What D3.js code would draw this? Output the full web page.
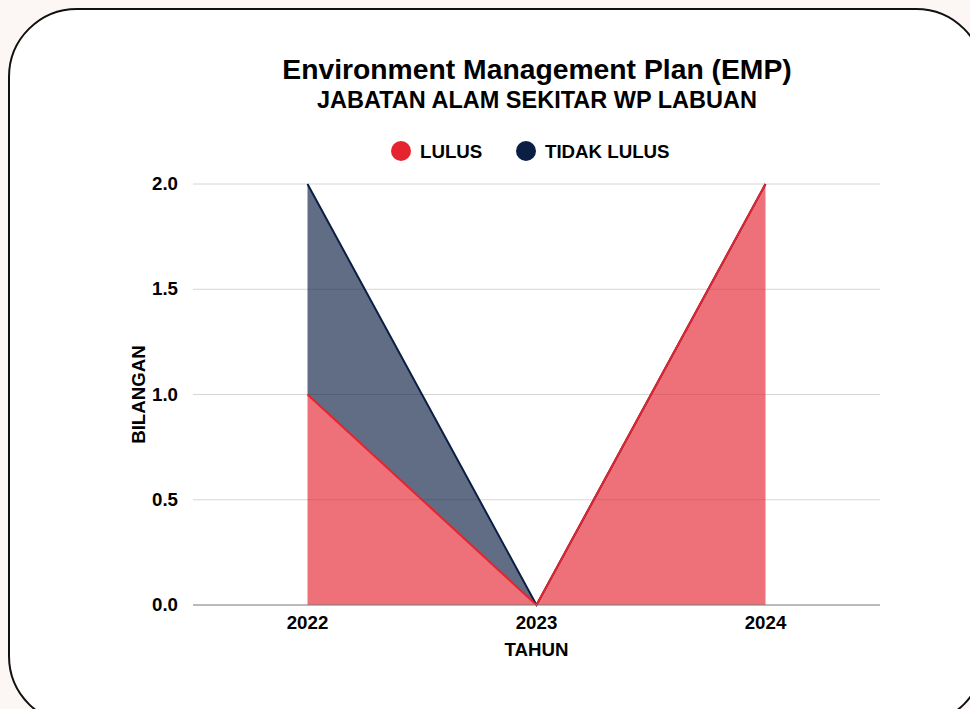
<!DOCTYPE html>
<html>
<head>
<meta charset="utf-8">
<script src="https://cdn.jsdelivr.net/npm/d3@7"></script>
<style>
  html, body { margin: 0; padding: 0; background: #fcf6f5; }
  svg { display: block; font-family: "Liberation Sans", Arial, sans-serif; }
</style>
</head>
<body>
<div id="chart"></div>
<script>
// data
const years = ["2022", "2023", "2024"];
const lulus = [1, 0, 2];
const tidakLulus = [1, 0, 0];
const seriesNames = ["LULUS", "TIDAK LULUS"];
const seriesColors = ["#e5242f", "#0b1f44"];
const yTicks = [0, 0.5, 1, 1.5, 2];

const width = 970, height = 709;
const plot = { left: 193, right: 880, top: 184, bottom: 605 };

const svg = d3.select("#chart").append("svg")
  .attr("width", width)
  .attr("height", height);

// card
svg.append("rect")
  .attr("x", 9).attr("y", 9)
  .attr("width", 975).attr("height", 715)
  .attr("rx", 68).attr("ry", 68)
  .attr("fill", "#ffffff")
  .attr("stroke", "#111")
  .attr("stroke-width", 2);

const x = d3.scalePoint().domain(years).range([plot.left, plot.right]).padding(0.5);
const y = d3.scaleLinear().domain([0, 2]).range([plot.bottom, plot.top]);

// gridlines
svg.append("g")
  .selectAll("line")
  .data(yTicks.filter(d => d > 0))
  .enter().append("line")
  .attr("x1", plot.left).attr("x2", plot.right)
  .attr("y1", d => y(d)).attr("y2", d => y(d))
  .attr("stroke", "#d6d6d6").attr("stroke-width", 1);

// stacked areas
const rows = years.map((yr, i) => ({ year: yr, LULUS: lulus[i], "TIDAK LULUS": tidakLulus[i] }));
const stacked = d3.stack().keys(seriesNames)(rows);

const area = d3.area()
  .x(d => x(d.data.year))
  .y0(d => y(d[0]))
  .y1(d => y(d[1]));
const line = d3.line()
  .x(d => x(d.data.year))
  .y(d => y(d[1]));

stacked.forEach((s, i) => {
  svg.append("path")
    .datum(s)
    .attr("d", area)
    .attr("fill", seriesColors[i])
    .attr("fill-opacity", 0.65);
});
// top series line first so the LULUS line sits on top where they meet
stacked.slice().reverse().forEach(s => {
  const i = seriesNames.indexOf(s.key);
  svg.append("path")
    .datum(s)
    .attr("d", line)
    .attr("fill", "none")
    .attr("stroke", seriesColors[i])
    .attr("stroke-width", 2);
});

// baseline
svg.append("line")
  .attr("x1", plot.left).attr("x2", plot.right)
  .attr("y1", y(0)).attr("y2", y(0))
  .attr("stroke", "#777").attr("stroke-width", 1);

// y tick labels
svg.append("g")
  .selectAll("text")
  .data(yTicks)
  .enter().append("text")
  .attr("x", 178)
  .attr("y", d => y(d) + 6)
  .attr("text-anchor", "end")
  .style("font-size", "18.7px")
  .style("font-weight", "bold")
  .text(d => d.toFixed(1));

// x tick labels
svg.append("g")
  .selectAll("text")
  .data(years)
  .enter().append("text")
  .attr("x", d => x(d))
  .attr("y", 629)
  .attr("text-anchor", "middle")
  .style("font-size", "18.7px")
  .style("font-weight", "bold")
  .text(d => d);

// axis titles
svg.append("text")
  .attr("x", x("2023")).attr("y", 656)
  .attr("text-anchor", "middle")
  .style("font-size", "18.7px").style("font-weight", "bold")
  .text("TAHUN");
svg.append("text")
  .attr("transform", "translate(145," + (y(1)) + ") rotate(-90)")
  .attr("text-anchor", "middle")
  .style("font-size", "18.7px").style("font-weight", "bold")
  .text("BILANGAN");

// titles
svg.append("text")
  .attr("x", 537).attr("y", 79)
  .attr("text-anchor", "middle")
  .style("font-size", "28.3px").style("font-weight", "bold")
  .text("Environment Management Plan (EMP)");
svg.append("text")
  .attr("x", 537).attr("y", 108)
  .attr("text-anchor", "middle")
  .style("font-size", "23.5px").style("font-weight", "bold")
  .text("JABATAN ALAM SEKITAR WP LABUAN");

// legend
const legendX = [401, 526];
const legend = svg.append("g");
seriesNames.forEach((name, i) => {
  legend.append("circle")
    .attr("cx", legendX[i]).attr("cy", 151).attr("r", 10)
    .attr("fill", seriesColors[i]);
  legend.append("text")
    .attr("x", legendX[i] + 19).attr("y", 158)
    .style("font-size", "18.7px").style("font-weight", "bold")
    .text(name);
});
</script>
</body>
</html>
